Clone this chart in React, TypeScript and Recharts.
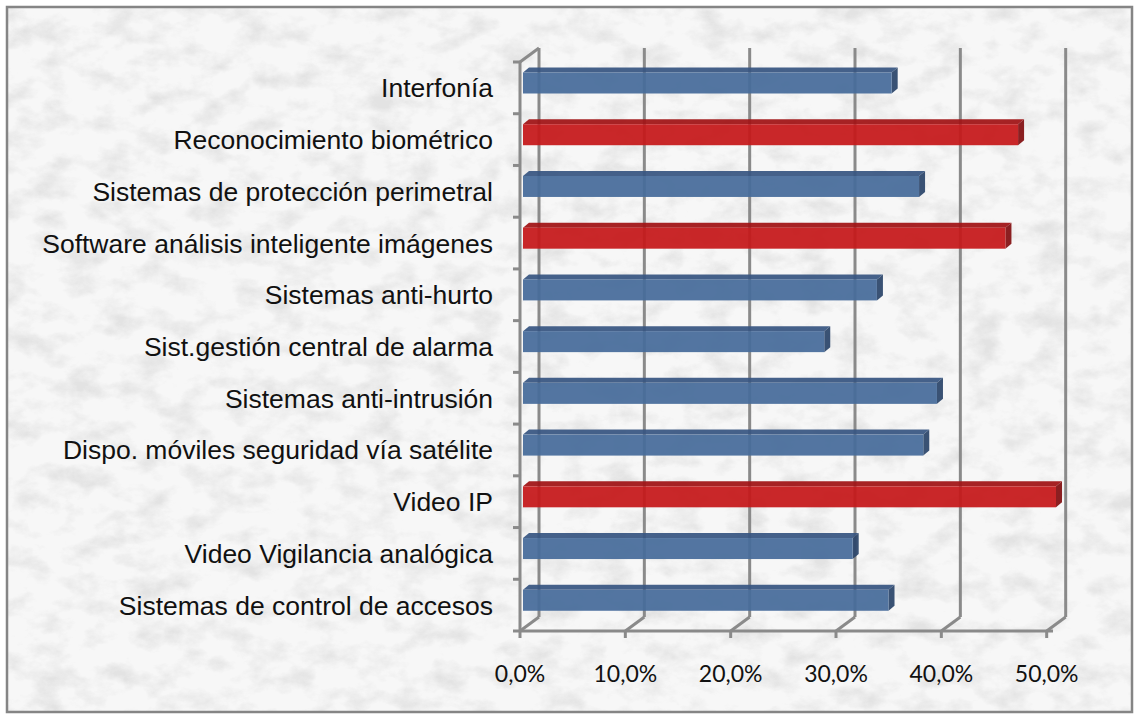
import { BarChart, Bar, XAxis, YAxis, CartesianGrid } from "recharts";

const categories = [
  "Interfonía",
  "Reconocimiento biométrico",
  "Sistemas de protección perimetral",
  "Software análisis inteligente imágenes",
  "Sistemas anti-hurto",
  "Sist.gestión central de alarma",
  "Sistemas anti-intrusión",
  "Dispo. móviles seguridad vía satélite",
  "Video IP",
  "Video Vigilancia analógica",
  "Sistemas de control de accesos",
];

const values = [0.35, 0.47, 0.376, 0.458, 0.336, 0.286, 0.393, 0.38, 0.506, 0.313, 0.347];

const highlighted = ["Reconocimiento biométrico", "Software análisis inteligente imágenes", "Video IP"];

const xTicks = [0, 0.1, 0.2, 0.3, 0.4, 0.5];

const data = categories.map((name, i) => ({ name, value: values[i] }));

const GRID = "#8a8a8a";
const GW = 3;
const DX = 19;
const DY = 14;

const blue = { front: "#476c9b", top: "#385682", side: "#2c466b" };
const red = { front: "#c6181a", top: "#a11315", side: "#841012" };

const pct = (v: number) => `${(v * 100).toFixed(1).replace(".", ",")}%`;

function Bar3D(props: any) {
  const { x, y, width, height, payload } = props;
  if (width == null || width <= 0) return null;
  const c = highlighted.includes(payload.name) ? red : blue;
  const fx = x + 3;
  const fy = y - 4.5;
  const d = 6;
  const u = 5;
  return (
    <g opacity={0.93}>
      <polygon
        points={`${fx},${fy} ${fx + width},${fy} ${fx + width + d},${fy - u} ${fx + d},${fy - u}`}
        fill={c.top}
      />
      <polygon
        points={`${fx + width},${fy} ${fx + width + d},${fy - u} ${fx + width + d},${fy + height - u} ${fx + width},${fy + height}`}
        fill={c.side}
      />
      <rect x={fx} y={fy} width={width} height={height} fill={c.front} />
    </g>
  );
}

function GridLine(props: any) {
  const { x1, y1, y2, index } = props;
  const rows = categories.length;
  const step = (y2 - y1) / rows;
  const s = { stroke: GRID, strokeWidth: GW, fill: "none" };
  return (
    <g>
      <line {...s} x1={x1 + DX} y1={y1 - DY} x2={x1 + DX} y2={y2 - DY} />
      <line {...s} x1={x1} y1={y2} x2={x1 + DX} y2={y2 - DY} />
      {index === 0 && (
        <>
          <line {...s} x1={x1} y1={y1} x2={x1 + DX} y2={y1 - DY} />
          {Array.from({ length: rows + 1 }, (_, i) => (
            <line {...s} key={i} x1={x1 - 7} y1={y1 + i * step} x2={x1} y2={y1 + i * step} />
          ))}
        </>
      )}
    </g>
  );
}

function CategoryTick(props: any) {
  const { x, y, payload } = props;
  return (
    <text
      x={x}
      y={y}
      dy="0.36em"
      textAnchor="end"
      fontFamily="'Liberation Sans', Arial, sans-serif"
      fontSize={26.5}
      fill="#111"
    >
      {payload.value}
    </text>
  );
}

export default function App() {
  return (
    <div style={{ position: "absolute", left: 0, top: 0, width: 1138, height: 720 }}>
      <svg width={1138} height={720} style={{ position: "absolute", left: 0, top: 0 }}>
        <defs>
          <filter id="marble" x="0" y="0" width="100%" height="100%">
            <feTurbulence type="fractalNoise" baseFrequency="0.03 0.045" numOctaves={5} seed={11} />
            <feColorMatrix
              type="matrix"
              values="0 0 0 0 0.45  0 0 0 0 0.45  0 0 0 0 0.45  2.6 0 0 0 -1.15"
            />
          </filter>
        </defs>
        <rect width={1138} height={720} fill="#ffffff" />
        <rect x={8} y={8} width={1124} height={704} fill="#f7f7f7" />
        <rect x={8} y={8} width={1124} height={704} filter="url(#marble)" opacity={0.28} />
        <rect x={7} y={7} width={1125} height={705} fill="none" stroke="#858585" strokeWidth={2.5} />
      </svg>
      <div style={{ position: "absolute", left: 0, top: 0 }}>
        <BarChart
          width={1138}
          height={720}
          data={data}
          layout="vertical"
          margin={{ top: 62, right: 85, bottom: 29, left: 0 }}
        >
          <CartesianGrid
            horizontal={false}
            syncWithTicks
            vertical={(p: any) => <GridLine {...p} />}
          />
          <XAxis
            type="number"
            domain={[0, 0.5]}
            ticks={xTicks}
            tickFormatter={pct}
            height={60}
            axisLine={{ stroke: GRID, strokeWidth: GW }}
            tickLine={{ stroke: GRID, strokeWidth: GW }}
            tickSize={7}
            tickMargin={28}
            tick={{ fontFamily: "Lato, 'Open Sans', sans-serif", fontSize: 23, fill: "#111" }}
            interval={0}
          />
          <YAxis
            type="category"
            dataKey="name"
            width={520}
            axisLine={{ stroke: GRID, strokeWidth: GW }}
            tickLine={false}
            tickSize={0}
            tickMargin={27}
            tick={<CategoryTick />}
            interval={0}
          />
          <Bar dataKey="value" barSize={21} isAnimationActive={false} shape={<Bar3D />} />
        </BarChart>
      </div>
    </div>
  );
}
